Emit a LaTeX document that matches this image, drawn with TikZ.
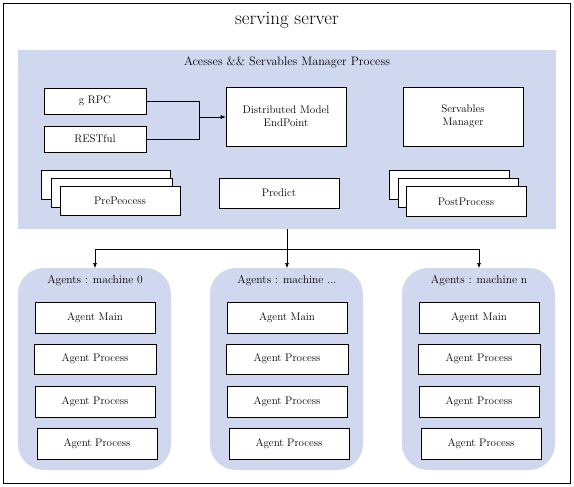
\documentclass[tikz,border=0pt]{standalone}
\usetikzlibrary{arrows.meta}
\definecolor{grp}{HTML}{D0D8F0}
\newcommand\mydotslab{...}
\begin{document}
\begin{tikzpicture}[x=1pt,y=-1pt,
  box/.style={draw=black,fill=white,line width=0.6pt,minimum width=120pt,minimum height=30pt,inner sep=0pt,font=\fontsize{11}{13}\selectfont,align=center},
  gtitle/.style={font=\fontsize{11.5}{13}\selectfont},
  conn/.style={line width=0.6pt},
  arr/.style={line width=0.6pt,-{Latex[length=5pt,width=4pt]}}]
\useasboundingbox (0,0) rectangle (574,487);
\draw[line width=0.8pt] (3,3) rectangle (570,483);
\node[font=\fontsize{19}{22}\selectfont] (title) at (287,20) {serving server};
% manager area
\fill[grp] (18,50) rectangle (556,229);
\node[font=\fontsize{12.2}{14}\selectfont] (mtitle) at (287,62) {Acesses \&\& Servables Manager Process};
\node[box,minimum width=102pt,minimum height=26pt] (grpc) at (95,101) {g RPC};
\node[box,minimum width=102pt,minimum height=26pt] (rest) at (95,139) {RESTful};
\node[box,minimum height=59pt] (dme) at (286,116.5) {Distributed Model\\EndPoint};
\node[box,minimum height=59pt] (sm) at (463,116.5) {Servables\\Manager};
\coordinate (join) at (199,117);
\draw[conn] (grpc.east) -| (join);
\draw[conn] (rest.east) -| (join);
\draw[arr] (join) -- (dme.west |- join);
% PrePeocess stack
\node[box,minimum width=129pt,minimum height=29pt] (pre3) at (105.5,184.5) {};
\node[box,minimum width=121pt,minimum height=29pt] (pre2) at (111.5,192.5) {};
\node[box,minimum width=120pt,minimum height=29pt] (pre1) at (120,200.5) {PrePeocess};
\node[box,minimum height=30pt] (pred) at (279,193) {Predict};
\node[box,minimum width=120pt,minimum height=29pt] (post3) at (449,184.5) {};
\node[box,minimum width=120pt,minimum height=29pt] (post2) at (458,192.5) {};
\node[box,minimum width=120pt,minimum height=30pt] (post1) at (466,201.5) {PostProcess};
% agents
\foreach \i/\cx/\lab in {0/95/0,1/287/\mydotslab,2/479/n}{
  \fill[grp,rounded corners=26pt] (\cx-77,268) rectangle (\cx+76,470);
  \node[gtitle] (at\i) at (\cx,281) {Agents : machine \lab};
  \node[box,minimum height=31pt] (am\i) at (\cx,317.5) {Agent Main};
  \node[box,minimum width=122pt] (apa\i) at (\cx,359) {Agent Process};
  \node[box,minimum height=31pt] (apb\i) at (\cx,401.5) {Agent Process};
  \node[box,minimum height=31pt] (apc\i) at (\cx+2,443.5) {Agent Process};
  \coordinate (top\i) at (\cx,268);
}
\coordinate (split) at (287,249);
\draw[conn] (287,229) -- (split);
\draw[conn] (95,249) -- (479,249);
\draw[arr] (95,249) -- (top0);
\draw[arr] (split) -- (top1);
\draw[arr] (479,249) -- (top2);
\end{tikzpicture}
\end{document}
